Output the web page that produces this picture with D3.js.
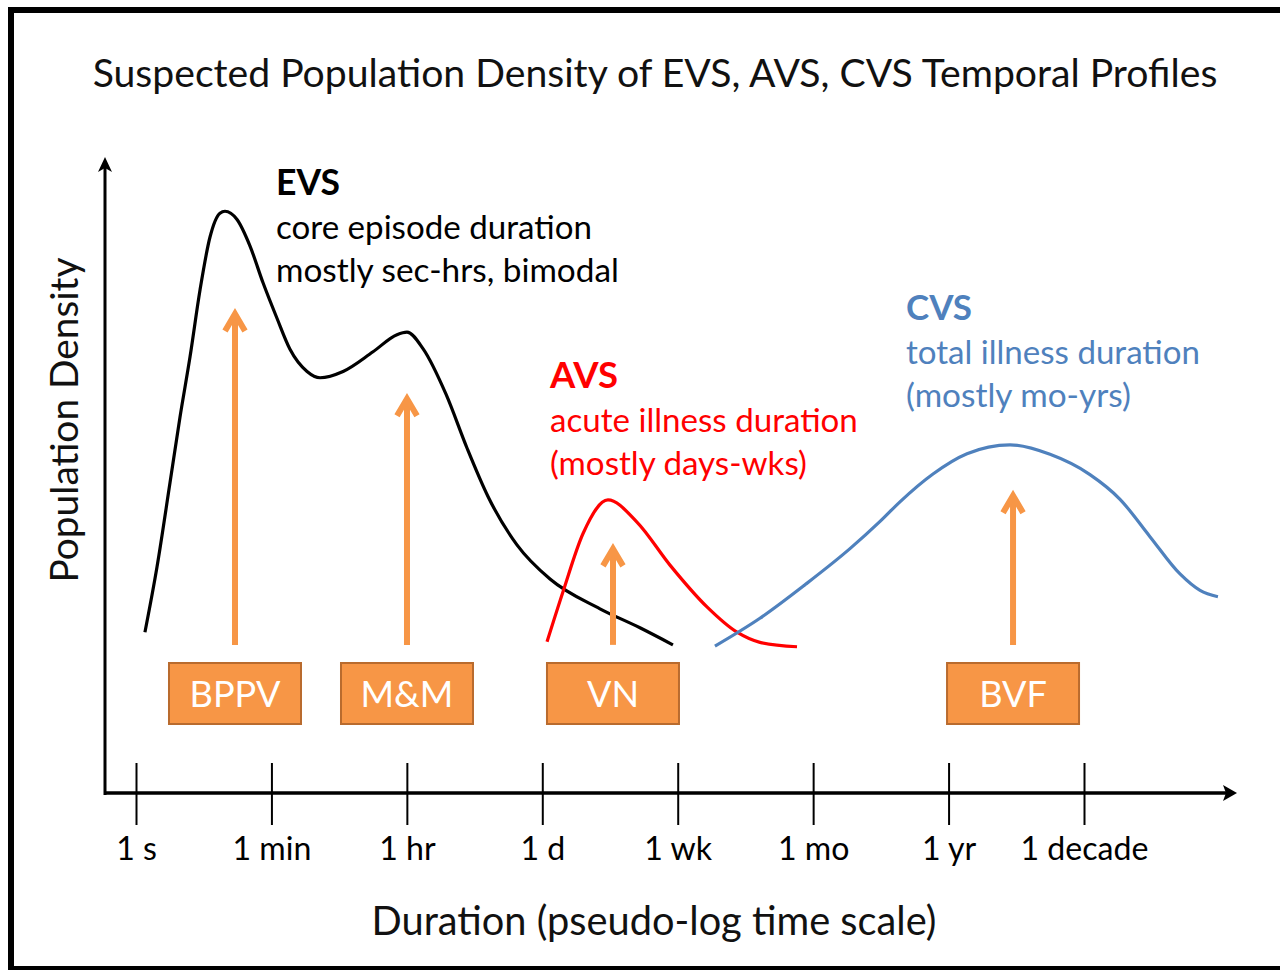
<!DOCTYPE html>
<html lang="en">
<head>
<meta charset="utf-8">
<title>Population density of EVS, AVS, CVS</title>
<script src="https://cdn.jsdelivr.net/npm/d3@7"></script>
<style>
	body { margin: 0; background: white; }
	svg { display: block; font-family: Lato, "Open Sans", sans-serif; }
</style>
</head>
<body>
<svg id="chart" width="1280" height="970"></svg>
<script>
// x is in tick steps of the pseudo-log scale (0 = 1 s ... 7 = 1 decade), y is relative density
var tickLabels = ["1 s", "1 min", "1 hr", "1 d", "1 wk", "1 mo", "1 yr", "1 decade"]

var evsCurve = [[0.066,0.254],[0.155,0.357],[0.251,0.490],[0.325,0.594],[0.399,0.689],[0.473,0.795],
	[0.546,0.878],[0.620,0.916],[0.657,0.919],[0.746,0.906],[0.842,0.864],[0.938,0.806],[1.041,0.750],
	[1.137,0.701],[1.263,0.666],[1.359,0.656],[1.529,0.666],[1.750,0.697],[1.927,0.724],[2.001,0.728],
	[2.119,0.702],[2.289,0.630],[2.444,0.545],[2.600,0.468],[2.813,0.392],[3.057,0.338],[3.426,0.291],
	[3.721,0.261],[3.965,0.234]]
var avsCurve = [[3.035,0.239],[3.153,0.318],[3.301,0.410],[3.485,0.463],[3.699,0.428],[3.943,0.360],
	[4.216,0.294],[4.438,0.254],[4.607,0.238],[4.881,0.231]]
var cvsCurve = [[4.275,0.232],[4.607,0.276],[4.940,0.329],[5.272,0.386],[5.494,0.429],[5.641,0.460],
	[5.885,0.504],[6.136,0.536],[6.454,0.550],[6.749,0.535],[7.044,0.503],[7.266,0.464],[7.487,0.405],
	[7.709,0.346],[7.857,0.320],[7.989,0.310]]

var groupNames = ["EVS", "AVS", "CVS"]
var groupLines = [["core episode duration", "mostly sec-hrs, bimodal"],
	["acute illness duration", "(mostly days-wks)"],
	["total illness duration", "(mostly mo-yrs)"]]

var triggers = ["BPPV", "M&M", "VN", "BVF"]
var triggerX = [0.731, 2.001, 3.522, 6.476]
var triggerTip = [0.763, 0.629, 0.392, 0.476]
var triggerBase = 0.234

var svg = d3.select("#chart")
var orange = "#F79646"
var colors = ["#000000", "#FF0000", "#4F81BD"]

//width fitting, since Calibri is not there
function fitWidth(sel, target) {
	var len = sel.node().getComputedTextLength()
	var fs = parseFloat(sel.style("font-size"))
	return fs * target / len
}

// frame
svg.append("rect").attr("x", 11).attr("y", 10).attr("width", 1290).attr("height", 959)
	.attr("fill", "none").attr("stroke", "black").attr("stroke-width", 6)

var x = d3.scaleLinear().domain([0, 7]).range([136, 1084])
var y = d3.scaleLinear().domain([0, 1]).range([793, 160])

// title
var title = svg.append("text").attr("x", 655).attr("y", 87).attr("text-anchor", "middle")
	.style("font-size", "36px").attr("fill", "#111")
	.text("Suspected Population Density of EVS, AVS, CVS Temporal Profiles")
title.style("font-size", fitWidth(title, 1125) + "px")

// axes
var axisG = svg.append("g").attr("transform", "translate(0,793)")
	.call(d3.axisBottom(x).tickValues(d3.range(tickLabels.length))
		.tickFormat(function(i) { return tickLabels[i] })
		.tickSizeInner(32).tickSizeOuter(0))
axisG.select(".domain").remove()
axisG.selectAll(".tick line").attr("y1", -30).attr("stroke", "black").attr("stroke-width", 2)
var tickText = axisG.selectAll(".tick text").attr("y", 67).attr("dy", null)
	.attr("fill", "black").style("font-family", "Lato, sans-serif").style("font-size", "28px")
var tfs = fitWidth(tickText.filter(function(d) { return d == 7 }), 128)
tickText.style("font-size", tfs + "px")

svg.append("line").attr("x1", 105).attr("y1", 793).attr("x2", 1230).attr("y2", 793)
	.attr("stroke", "black").attr("stroke-width", 3.5)
svg.append("path").attr("d", "M1237,793 L1223,785 L1226,793 L1223,801 Z").attr("fill", "black")
svg.append("line").attr("x1", 105).attr("y1", 795).attr("x2", 105).attr("y2", 164)
	.attr("stroke", "black").attr("stroke-width", 3)
svg.append("path").attr("d", "M105,157 L98,172 L105,168 L112,172 Z").attr("fill", "black")

var xTitle = svg.append("text").attr("x", 654).attr("y", 935).attr("text-anchor", "middle")
	.style("font-size", "34px").attr("fill", "#111").text("Duration (pseudo-log time scale)")
xTitle.style("font-size", fitWidth(xTitle, 565) + "px")

var yTitle = svg.append("text").attr("transform", "translate(78,420) rotate(-90)")
	.attr("text-anchor", "middle").style("font-size", "34px").attr("fill", "#111")
	.text("Population Density")
yTitle.style("font-size", fitWidth(yTitle, 325) + "px")

// curves
var line = d3.line().x(function(d) { return x(d[0]) }).y(function(d) { return y(d[1]) })
	.curve(d3.curveMonotoneX)
var curves = [evsCurve, avsCurve, cvsCurve]
svg.selectAll(".curve").data(curves).enter().append("path")
	.attr("class", "curve")
	.attr("d", line)
	.attr("fill", "none")
	.attr("stroke", function(d, i) { return colors[i] })
	.attr("stroke-width", 3.2)
	.attr("stroke-linejoin", "round")

// trigger arrows and boxes
var trig = svg.selectAll(".trig").data(triggers).enter().append("g").attr("class", "trig")
trig.append("line")
	.attr("x1", function(d, i) { return x(triggerX[i]) })
	.attr("x2", function(d, i) { return x(triggerX[i]) })
	.attr("y1", y(triggerBase))
	.attr("y2", function(d, i) { return y(triggerTip[i]) + 4 })
	.attr("stroke", orange).attr("stroke-width", 6)
trig.append("path")
	.attr("d", function(d, i) {
		var cx = x(triggerX[i]), ty = y(triggerTip[i]) + 4
		return "M" + (cx - 10) + "," + (ty + 17) + " L" + cx + "," + ty + " L" + (cx + 10) + "," + (ty + 17)
	})
	.attr("fill", "none").attr("stroke", orange).attr("stroke-width", 6)
	.attr("stroke-linejoin", "miter").attr("stroke-linecap", "butt")
trig.append("rect")
	.attr("x", function(d, i) { return x(triggerX[i]) - 66 })
	.attr("y", 663).attr("width", 132).attr("height", 61)
	.attr("fill", orange).attr("stroke", "#B96B2E").attr("stroke-width", 2)
var boxText = trig.append("text")
	.attr("x", function(d, i) { return x(triggerX[i]) })
	.attr("y", 707).attr("text-anchor", "middle")
	.attr("fill", "white").style("font-size", "32px")
	.text(function(d) { return d })
var bfs = fitWidth(boxText.filter(function(d) { return d == "BPPV" }), 91)
boxText.style("font-size", bfs + "px")

// group annotations
var labelPos = [[276, 195], [550, 388], [906, 320]]
var nameWidth = [64, 68, 66]
var lineWidth = [[316, 343], [308, 257], [294, 225]]
groupNames.forEach(function(name, g) {
	var t = svg.append("text").attr("x", labelPos[g][0]).attr("y", labelPos[g][1])
		.attr("fill", colors[g]).style("font-weight", "bold").style("font-size", "32px").text(name)
	t.style("font-size", fitWidth(t, nameWidth[g]) + "px")
	groupLines[g].forEach(function(s, k) {
		var lt = svg.append("text").attr("x", labelPos[g][0]).attr("y", labelPos[g][1] + 43.5 * (k + 1))
			.attr("fill", colors[g]).style("font-size", "30px").text(s)
		lt.style("font-size", fitWidth(lt, lineWidth[g][k]) + "px")
	})
})
</script>
</body>
</html>
